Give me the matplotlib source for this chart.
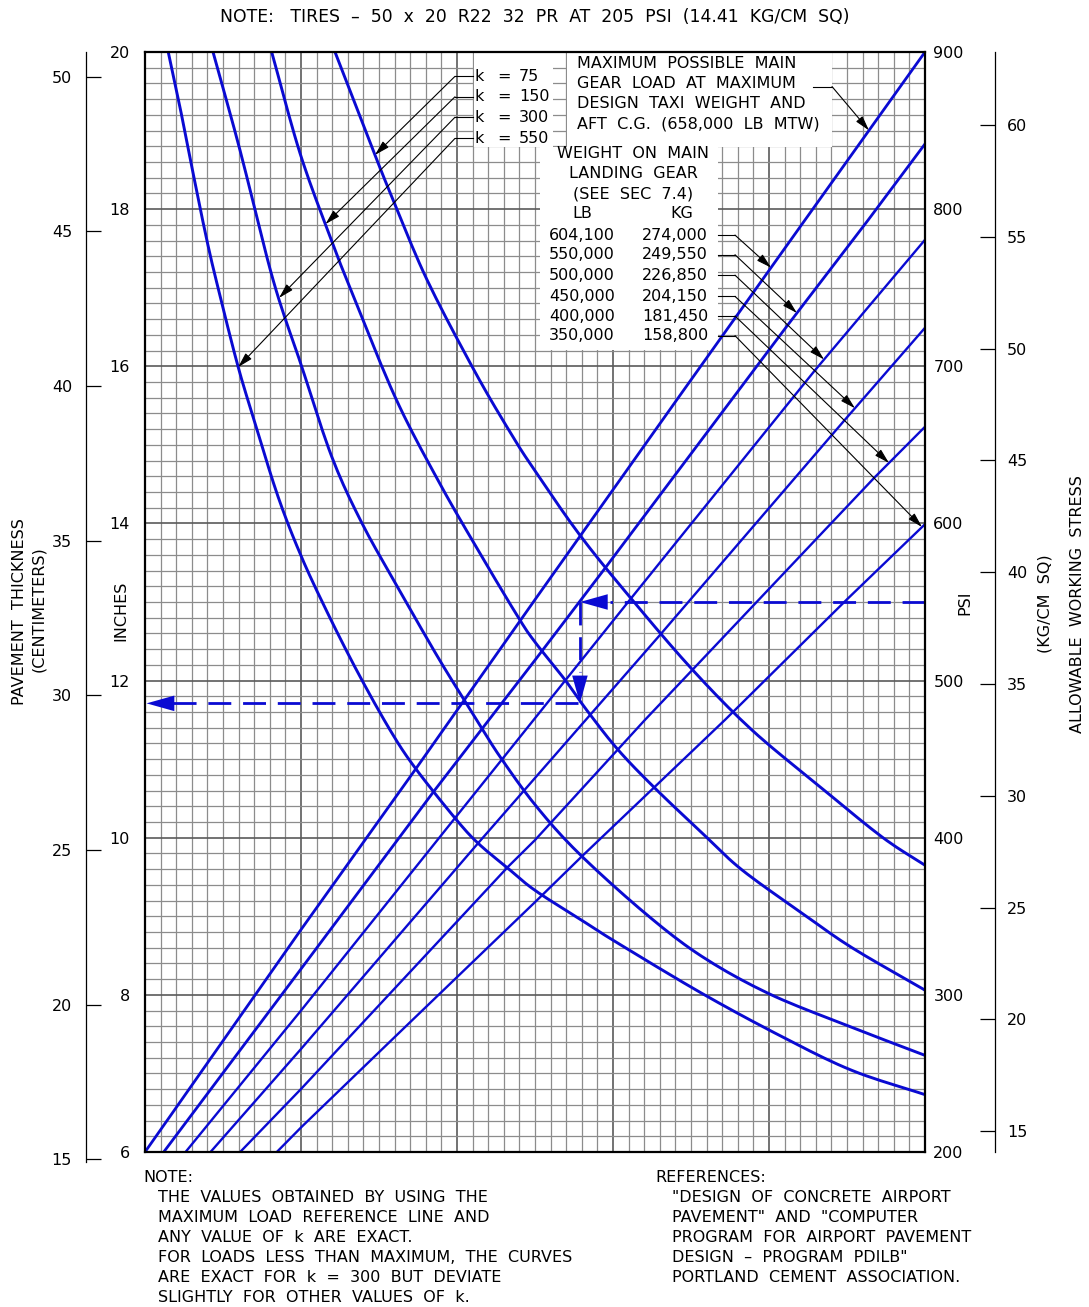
import numpy as np
import matplotlib
matplotlib.use('Agg')
import matplotlib.pyplot as plt
from matplotlib.patches import Rectangle

plt.rcParams['font.family'] = ['DejaVu Sans']
plt.rcParams['font.size'] = 11.5
plt.rcParams['lines.scale_dashes'] = False

BLUE = '#0a0ad2'
W, H = 1089, 1307

# scales on the sides of the chart
inch_ticks = [6, 8, 10, 12, 14, 16, 18, 20]
psi_ticks = [200, 300, 400, 500, 600, 700, 800, 900]
cm_ticks = [15, 20, 25, 30, 35, 40, 45, 50]
kg_ticks = [15, 20, 25, 30, 35, 40, 45, 50, 55, 60]

# main gear load lines (x in grid divisions, y in inches), maximum load first
load_lb = ['604,100', '550,000', '500,000', '450,000', '400,000', '350,000']
load_kg = ['274,000', '249,550', '226,850', '204,150', '181,450', '158,800']
load_x = [
    [0.0, 10.0, 17.3, 25.0, 34.4, 42.3, 50.0],
    [1.2, 10.04, 18.59, 25.0, 29.49, 41.22, 46.35, 50.0],
    [2.6, 10.04, 19.87, 31.09, 42.95, 50.0],
    [4.2, 10.04, 21.35, 25.0, 33.01, 44.87, 50.0],
    [6.1, 10.04, 23.27, 25.0, 32.05, 35.06, 46.79, 50.0],
    [8.45, 10.04, 16.67, 25.0, 27.99, 32.69, 37.18, 44.98, 50.0],
]
load_y = [
    [6.0, 8.83, 10.86, 13.03, 15.66, 17.86, 20.0],
    [6.0, 8.34, 10.61, 12.26, 13.43, 16.53, 17.86, 18.83],
    [6.0, 7.81, 10.25, 13.03, 15.95, 17.61],
    [6.0, 7.32, 9.93, 10.76, 12.58, 15.32, 16.49],
    [6.0, 6.81, 9.63, 9.97, 11.50, 12.13, 14.59, 15.23],
    [6.0, 6.32, 7.59, 9.18, 9.76, 10.65, 11.50, 13.03, 13.99],
]

# subgrade modulus curves
k_values = [75, 150, 300, 550]
k_x = [
    [12.18, 14.62, 15.90, 18.08, 21.15, 23.53, 25.0, 27.88, 31.22, 35.13, 38.91, 43.14, 47.24, 50.0],
    [8.12, 9.94, 11.86, 13.14, 16.03, 18.78, 21.35, 23.91, 25.0, 26.92, 28.33, 30.32, 32.69, 35.71,
     38.27, 42.12, 45.32, 50.0],
    [4.36, 6.09, 8.21, 10.04, 11.97, 13.89, 16.22, 18.59, 20.06, 21.35, 22.76, 25.0, 27.76, 32.05,
     35.69, 39.94, 44.87, 50.0],
    [1.49, 2.24, 3.08, 3.96, 4.68, 5.96, 7.05, 8.53, 10.04, 11.73, 13.65, 15.71, 17.31, 19.87, 21.35,
     23.27, 25.0, 27.99, 30.13, 35.69, 40.81, 45.30, 50.0],
]
k_y = [
    [20.0, 18.75, 18.12, 17.10, 15.93, 15.12, 14.67, 13.85, 13.03, 12.13, 11.37, 10.67, 10.01, 9.65],
    [20.0, 18.71, 17.65, 17.0, 15.61, 14.55, 13.66, 12.81, 12.49, 12.01, 11.62, 11.12, 10.63, 10.06,
     9.59, 9.04, 8.60, 8.06],
    [20.0, 18.75, 17.10, 16.0, 14.85, 14.01, 13.18, 12.36, 11.88, 11.47, 11.03, 10.42, 9.81, 9.04,
     8.49, 8.02, 7.62, 7.23],
    [20.0, 19.30, 18.46, 17.61, 17.0, 16.0, 15.28, 14.34, 13.57, 12.85, 12.10, 11.37, 10.89, 10.25,
     9.93, 9.61, 9.33, 8.95, 8.68, 8.02, 7.47, 7.04, 6.73],
]

# worked example: 550 psi -> 550,000 lb line -> k = 150 curve -> thickness
example_psi = 550
example_x = 27.88
example_in = 11.71

title = 'NOTE:   TIRES  –  50  x  20  R22  32  PR  AT  205  PSI  (14.41  KG/CM  SQ)'
note_lines = ['THE  VALUES  OBTAINED  BY  USING  THE',
              'MAXIMUM  LOAD  REFERENCE  LINE  AND',
              'ANY  VALUE  OF  k  ARE  EXACT.',
              'FOR  LOADS  LESS  THAN  MAXIMUM,  THE  CURVES',
              'ARE  EXACT  FOR  k  =  300  BUT  DEVIATE',
              'SLIGHTLY  FOR  OTHER  VALUES  OF  k.']
ref_lines = ['"DESIGN  OF  CONCRETE  AIRPORT',
             'PAVEMENT"  AND  "COMPUTER',
             'PROGRAM  FOR  AIRPORT  PAVEMENT',
             'DESIGN  –  PROGRAM  PDILB"',
             'PORTLAND  CEMENT  ASSOCIATION.']


def fx(px):
    return px / W


def fy(py):
    return 1 - py / H


def psi_to_in(psi):
    return 6 + (psi - 200) / 50.0


def smooth(xs, ys, n=10):
    # Catmull-Rom through the read points, so the curves bend without kinks
    p = np.column_stack([xs, ys]).astype(float)
    p = np.vstack([2 * p[0] - p[1], p, 2 * p[-1] - p[-2]])
    t = np.linspace(0, 1, n, endpoint=False)[:, None]
    out = []
    for i in range(1, len(p) - 2):
        p0, p1, p2, p3 = p[i - 1], p[i], p[i + 1], p[i + 2]
        out.append(0.5 * (2 * p1 + (p2 - p0) * t + (2 * p0 - 5 * p1 + 4 * p2 - p3) * t ** 2
                          + (3 * p1 - p0 - 3 * p2 + p3) * t ** 3))
    out.append(p[-2][None])
    out = np.vstack(out)
    return out[:, 0], out[:, 1]


fig = plt.figure(figsize=(W / 100, H / 100), dpi=100)

ax = fig.add_axes([fx(145), fy(1152), 780 / W, 1100 / H])
ax.set_xlim(0, 50)
ax.set_ylim(6, 20)
ax.set_xticks(np.arange(0, 51, 10))
ax.set_xticks(np.arange(0, 51, 1), minor=True)
ax.set_yticks(inch_ticks)
ax.set_yticks(np.arange(6, 20.01, 0.2), minor=True)
ax.set_axisbelow(True)
ax.grid(which='minor', color='#8c8c8c', lw=0.9)
ax.grid(which='major', color='#5a5a5a', lw=1.2)
ax.tick_params(which='both', length=0)
ax.tick_params(axis='x', labelbottom=False)
ax.tick_params(axis='y', pad=11)
for s in ax.spines.values():
    s.set_linewidth(1.6)
    s.set_zorder(6)

ax2 = ax.twinx()
ax2.set_ylim(200, 900)
ax2.set_yticks(psi_ticks)
ax2.tick_params(length=0, pad=6)
for s in ax2.spines.values():
    s.set_visible(False)

# outer centimetre scale
ax_cm = fig.add_axes([fx(86), fy(1162), 0.0001, 1110 / H])
ax_cm.set_ylim(2.54 * (6 - 10 / 78.57), 2.54 * 20)
ax_cm.set_yticks(cm_ticks)
ax_cm.set_xticks([])
ax_cm.patch.set_visible(False)
for side in ['right', 'top', 'bottom']:
    ax_cm.spines[side].set_visible(False)
ax_cm.spines['left'].set_linewidth(0.9)
ax_cm.tick_params(axis='y', direction='in', length=10.8, width=0.9, pad=10)

# outer kg/cm sq scale
ax_kg = fig.add_axes([fx(995), fy(1152), 0.0001, 1100 / H])
ax_kg.set_ylim(200 / 14.2233, 900 / 14.2233)
ax_kg.set_yticks(kg_ticks)
ax_kg.set_xticks([])
ax_kg.patch.set_visible(False)
ax_kg.yaxis.tick_right()
for side in ['left', 'top', 'bottom']:
    ax_kg.spines[side].set_visible(False)
ax_kg.spines['right'].set_linewidth(0.9)
ax_kg.tick_params(axis='y', direction='in', length=10.8, width=0.9, pad=8.5)

# white label areas over the grid
for x0, y0, x1, y1 in [(21.1, 18.79, 26.15, 20.0), (27.05, 18.79, 44.04, 20.0), (25.3, 16.21, 36.73, 18.79)]:
    ax.add_patch(Rectangle((x0, y0), x1 - x0, y1 - y0, facecolor='white', edgecolor='none', zorder=1))

for i, (xs, ys) in enumerate(zip(load_x, load_y)):
    ax.plot(xs, ys, color=BLUE, lw=2.0 if i < 2 else 1.7, zorder=3)
for xs, ys in zip(k_x, k_y):
    sx, sy = smooth(xs, ys)
    ax.plot(sx, sy, color=BLUE, lw=2.1, zorder=3)

# worked example path
y_start = psi_to_in(example_psi)
dash = dict(color=BLUE, lw=2.0, dashes=(16.5, 8.5), zorder=4)
ax.plot([50, example_x + 1.9], [y_start, y_start], **dash)
ax.plot([example_x, example_x], [y_start, example_in + 0.4], **dash)
ax.plot([example_x - 0.1, 1.8], [example_in, example_in], **dash)
big = dict(arrowstyle='-|>,head_length=1.0,head_width=0.28', color=BLUE, lw=0,
           mutation_scale=20, shrinkA=0, shrinkB=0)
ax.annotate('', xy=(example_x, y_start), xytext=(example_x + 4, y_start), arrowprops=big, zorder=5)
ax.annotate('', xy=(example_x, example_in), xytext=(example_x, example_in + 0.8), arrowprops=big, zorder=5)
ax.annotate('', xy=(0.1, example_in), xytext=(4, example_in), arrowprops=big, zorder=5)

small = dict(arrowstyle='-|>,head_length=0.9,head_width=0.25', color='black', lw=0.8,
             mutation_scale=10, shrinkA=0, shrinkB=0)

# k labels with leaders
k_label_y = [19.69, 19.43, 19.17, 18.90]
k_tip_y = [18.69, 17.81, 16.87, 15.99]
for k, ly, ty, xs, ys in zip(k_values, k_label_y, k_tip_y, k_x, k_y):
    ax.text(21.15, ly, 'k', ha='left', va='center', zorder=5)
    ax.text(22.56, ly, '=', ha='left', va='center', zorder=5)
    ax.text(23.97, ly, str(k), ha='left', va='center', zorder=5)
    ax.plot([21.03, 19.87], [ly, ly], color='black', lw=0.8, zorder=5)
    tx = np.interp(ty, ys[::-1], xs[::-1])
    ax.annotate('', xy=(tx, ty), xytext=(19.87, ly), arrowprops=small, zorder=5)

# maximum load note
max_lines = ['MAXIMUM  POSSIBLE  MAIN', 'GEAR  LOAD  AT  MAXIMUM',
             'DESIGN  TAXI  WEIGHT  AND', 'AFT  C.G.  (658,000  LB  MTW)']
for ly, s in zip([19.86, 19.60, 19.35, 19.09], max_lines):
    ax.text(27.69, ly, s, ha='left', va='center', zorder=5)
ax.plot([42.82, 44.04], [19.56, 19.56], color='black', lw=0.8, zorder=5)
tip_x = 46.41
ax.annotate('', xy=(tip_x, np.interp(tip_x, load_x[0], load_y[0])), xytext=(44.04, 19.56),
            arrowprops=small, zorder=5)

# weight table
for ly, s in zip([18.71, 18.45, 18.19], ['WEIGHT  ON  MAIN', 'LANDING  GEAR', '(SEE  SEC  7.4)']):
    ax.text(31.28, ly, s, ha='center', va='center', zorder=5)
ax.text(28.01, 17.94, 'LB', ha='center', va='center', zorder=5)
ax.text(34.42, 17.94, 'KG', ha='center', va='center', zorder=5)
row_y = [17.67, 17.42, 17.16, 16.89, 16.64, 16.39]
tip_xs = [40.13, 41.79, 43.53, 45.51, 47.69, 49.81]
for lb, kg, ry, tx, xs, ys in zip(load_lb, load_kg, row_y, tip_xs, load_x, load_y):
    ax.text(30.13, ry, lb, ha='right', va='center', zorder=5)
    ax.text(36.09, ry, kg, ha='right', va='center', zorder=5)
    ax.plot([36.73, 37.82], [ry, ry], color='black', lw=0.8, zorder=5)
    ax.annotate('', xy=(tx, np.interp(tx, xs, ys)), xytext=(37.82, ry), arrowprops=small, zorder=5)

# texts around the chart
fig.text(fx(535), fy(17), title, ha='center', va='center', fontsize=12.4)
fig.text(fx(121), fy(611), 'INCHES', rotation=90, ha='center', va='center')
fig.text(fx(19), fy(612), 'PAVEMENT  THICKNESS', rotation=90, ha='center', va='center')
fig.text(fx(39), fy(609), '(CENTIMETERS)', rotation=90, ha='center', va='center')
fig.text(fx(965), fy(603), 'PSI', rotation=90, ha='center', va='center')
fig.text(fx(1045), fy(604), '(KG/CM  SQ)', rotation=90, ha='center', va='center')
fig.text(fx(1077), fy(604), 'ALLOWABLE  WORKING  STRESS', rotation=90, ha='center', va='center')

fig.text(fx(143), fy(1177), 'NOTE:', ha='left', va='center')
for i, s in enumerate(note_lines):
    fig.text(fx(158), fy(1197 + 20.2 * i), s, ha='left', va='center')
fig.text(fx(655), fy(1177), 'REFERENCES:', ha='left', va='center')
for i, s in enumerate(ref_lines):
    fig.text(fx(672), fy(1197 + 20.2 * i), s, ha='left', va='center')

fig.savefig('out.png', dpi=100)
